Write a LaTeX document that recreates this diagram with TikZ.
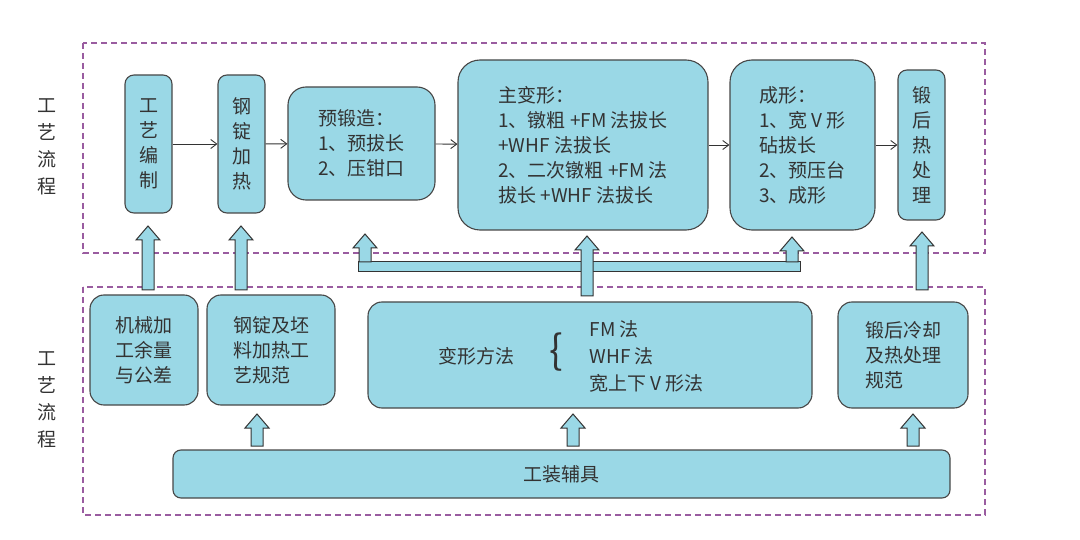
\documentclass[tikz,border=0pt]{standalone}
\usepackage{fontspec}
\setmainfont{Noto Sans CJK SC}
\usetikzlibrary{arrows.meta}
\definecolor{bx}{HTML}{9AD8E6}
\definecolor{fr}{HTML}{9A5CA0}
\definecolor{tx}{HTML}{333333}
\tikzset{
 box/.style={draw=tx!90,line width=1.1pt,fill=bx,rounded corners=9pt,inner sep=0pt,text=tx,font=\fontsize{19}{25}\selectfont},
 frame/.style={draw=fr,dashed,dash pattern=on 6pt off 4pt,line width=1.2pt},
 con/.style={draw=tx,line width=0.9pt,-{Straight Barb[length=6pt,width=9pt]}},
 hol/.style={draw=tx,line width=1pt,fill=bx},
 lab/.style={text=tx,font=\fontsize{19}{27}\selectfont,align=center}
}
% hollow up arrow: x, ybottom, ytop
\newcommand{\uparr}[3]{\draw[hol] (#1-6,#2) -- (#1-6,#3+14) -- (#1-12,#3+14) -- (#1,#3) -- (#1+12,#3+14) -- (#1+6,#3+14) -- (#1+6,#2) -- cycle;}
\begin{document}
\begin{tikzpicture}[x=1pt,y=-1pt]
\useasboundingbox (0,0) rectangle (1080,540);
\draw[frame] (83,43) rectangle (985,253);
\draw[frame] (83,287) rectangle (985,515);
\node[lab] (L1) at (47,147) {工\\艺\\流\\程};
\node[lab] (L2) at (47,400) {工\\艺\\流\\程};
% top row
\node[box,minimum width=47pt,minimum height=138pt,align=center] (a) at (148.5,144) {工\\艺\\编\\制};
\node[box,minimum width=47pt,minimum height=138pt,align=center] (b) at (241.5,144) {钢\\锭\\加\\热};
\node[box,minimum width=147pt,minimum height=113pt,align=left,rounded corners=18pt] (c) at (361.5,143.5) {预锻造：\\1、预拔长\\2、压钳口};
\node[box,minimum width=250pt,minimum height=170pt,align=left,rounded corners=22pt] (d) at (583,145) {主变形：\\1、镦粗 +FM 法拔长\\+WHF 法拔长\\2、二次镦粗 +FM 法\\拔长 +WHF 法拔长};
\node[box,minimum width=145pt,minimum height=170pt,align=left,rounded corners=22pt] (e) at (802.5,145) {成形：\\1、宽 V 形\\砧拔长\\2、预压台\\3、成形};
\node[box,minimum width=47pt,minimum height=150pt,align=center] (f) at (921.5,145) {锻\\后\\热\\处\\理};
\draw[con] (a) -- (b);
\draw[con] (b) -- (c);
\draw[con] (c) -- (d);
\draw[con] (d) -- (e);
\draw[con] (e) -- (f);
% bottom row
\node[box,minimum width=108pt,minimum height=110pt,align=left,rounded corners=14pt] (g) at (144,350) {机械加\\工余量\\与公差};
\node[box,minimum width=128pt,minimum height=110pt,align=left,rounded corners=14pt] (h) at (271,350) {钢锭及坯\\料加热工\\艺规范};
\node[box,minimum width=444pt,minimum height=106pt,rounded corners=14pt] (i) at (590,355) {};
\node[lab] (i1) at (476,356) {变形方法};
\node[text=tx,font=\fontsize{40}{40}\selectfont] (br) at (556,352) {\{};
\node[lab,align=left,anchor=west] (i2) at (586,356) {FM 法\\WHF 法\\宽上下 V 形法};
\node[box,minimum width=130pt,minimum height=106pt,align=left,rounded corners=14pt] (j) at (903,355) {锻后冷却\\及热处理\\规范};
\node[box,minimum width=777pt,minimum height=48pt,rounded corners=8pt] (k) at (561.5,474) {工装辅具};
% hollow arrows
\uparr{148}{290}{226}
\uparr{241}{290}{226}
\uparr{922}{290}{232}
\draw[hol] (358,262) rectangle (800,272);
\uparr{365}{262}{234}
\uparr{792}{262}{237}
\uparr{587}{296}{236}
\uparr{257}{446}{414}
\uparr{573}{446}{414}
\uparr{913}{446}{414}
\end{tikzpicture}
\end{document}
